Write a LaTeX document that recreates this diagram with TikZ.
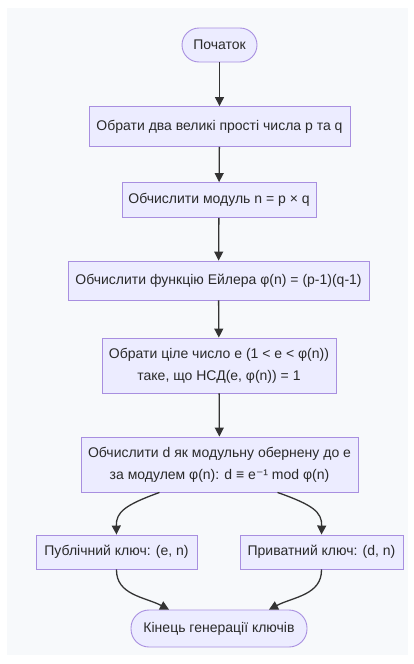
\documentclass[tikz,border=0pt]{standalone}
\usepackage{fontspec}
\setmainfont{Liberation Sans}
\newfontfamily\dejavu{DejaVu Sans}
\usetikzlibrary{arrows.meta}
\definecolor{panel}{HTML}{F7F9FB}
\definecolor{nodefill}{HTML}{ECECFF}
\definecolor{nodeborder}{HTML}{A88FE0}
\definecolor{txt}{HTML}{2A2A2A}
\definecolor{edge}{HTML}{333333}
\tikzset{
  box/.style={draw=nodeborder, fill=nodefill, line width=0.9pt, text=txt,
    inner sep=0pt, align=center, font=\fontsize{14}{22}\selectfont},
  term/.style={box, rounded corners=17pt},
  flow/.style={draw=edge, line width=1.3pt, -{Triangle[length=9pt,width=9pt]}}
}
\begin{document}
\begin{tikzpicture}[x=1pt,y=-1pt]
\useasboundingbox (0,0) rectangle (414,664);
\fill[panel] (7,8) rectangle (408,655);
\node[term, minimum width=75pt, minimum height=34pt] (start) at (219.5,45) {Початок};
\node[box, minimum width=261pt, minimum height=40pt] (b1) at (219.5,126.5) {Обрати два великі прості числа p та q};
\node[box, minimum width=194pt, minimum height=35pt] (b2) at (219,200) {Обчислити модуль n = p × q};
\node[box, minimum width=301pt, minimum height=39pt] (b3) at (218.5,280.5) {Обчислити функцію Ейлера φ(n) = (p-1)(q-1)};
\node[box, minimum width=234pt, minimum height=55pt] (b4) at (219,365.5) {Обрати ціле число e (1 < e < φ(n))\\таке, що НСД(e, φ(n)) = 1};
\node[box, minimum width=277pt, minimum height=55pt] (b5) at (219.5,464.5) {Обчислити d як модульну обернену до e\\за модулем φ(n): d ≡ e{\dejavu ⁻}¹ mod φ(n)};
\node[box, minimum width=161pt, minimum height=34pt] (pub) at (116.5,552) {Публічний ключ: (e, n)};
\node[box, minimum width=163pt, minimum height=34pt] (priv) at (321.5,552) {Приватний ключ: (d, n)};
\node[term, rounded corners=18pt, minimum width=176pt, minimum height=37pt] (end) at (219,628.5) {Кінець генерації ключів};
\draw[flow] (start) -- (b1);
\draw[flow] (b1) -- (b2);
\draw[flow] (b2) -- (b3);
\draw[flow] (b3) -- (b4);
\draw[flow] (b4) -- (b5);
\draw[flow] ([xshift=-60pt]b5.south) .. controls (125,505) and (116,512) .. (pub.north);
\draw[flow] ([xshift=58pt]b5.south) .. controls (313,505) and (322,512) .. (priv.north);
\draw[flow] (pub.south) .. controls (116,595) and (145,597) .. ([xshift=-50pt]end.north);
\draw[flow] (priv.south) .. controls (322,595) and (293,597) .. ([xshift=50pt]end.north);
\end{tikzpicture}
\end{document}
